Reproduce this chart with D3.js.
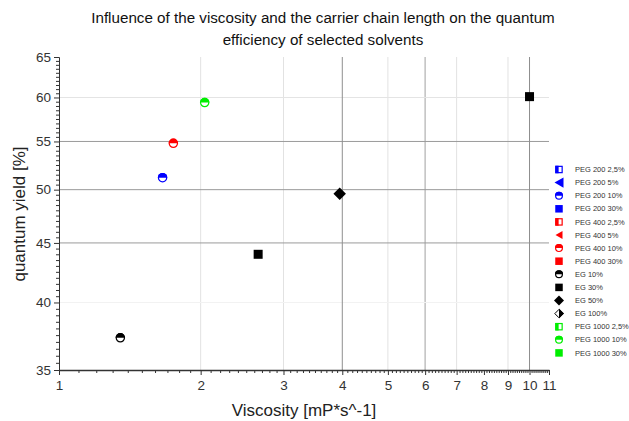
<!DOCTYPE html>
<html>
<head>
<meta charset="utf-8">
<script src="https://cdn.jsdelivr.net/npm/d3@7/dist/d3.min.js"></script>
<style>
  html, body { margin: 0; padding: 0; background: #fff; }
  svg { display: block; font-family: "Liberation Sans", Arial, sans-serif; }
  .axis path, .axis line { stroke: #333; }
  .axis text { fill: #333; font-size: 13.5px; font-family: "Liberation Sans", Arial, sans-serif; }
</style>
</head>
<body>
<svg id="chart" width="629" height="421"></svg>
<script>
// ---- data ----
const titleLines = [
  "Influence of the viscosity and the carrier chain length on the quantum",
  "efficiency of selected solvents"
];
const xLabel = "Viscosity [mP*s^-1]";
const yLabel = "quantum yield [%]";

const xTicks = [1, 2, 3, 4, 5, 6, 7, 8, 9, 10, 11];
const yTicks = [35, 40, 45, 50, 55, 60, 65];

const seriesNames = [
  "PEG 200 2,5%", "PEG 200 5%", "PEG 200 10%", "PEG 200 30%",
  "PEG 400 2,5%", "PEG 400 5%", "PEG 400 10%", "PEG 400 30%",
  "EG 10%", "EG 30%", "EG 50%", "EG 100%",
  "PEG 1000 2,5%", "PEG 1000 10%", "PEG 1000 30%"
];

// measured points: series, viscosity, quantum yield
const pointSeries    = ["PEG 200 10%", "PEG 400 10%", "PEG 1000 10%", "EG 10%", "EG 30%", "EG 50%", "EG 30%"];
const pointViscosity = [1.66, 1.75, 2.04, 1.35, 2.65, 3.95, 10.0];
const pointYield     = [51.2, 54.8, 59.4, 37.3, 44.0, 49.6, 60.1];

// gridline levels
const xGridDark  = [4, 10];
const xGridMid   = [6];
const xGridLight = [2, 3, 5, 7, 9];
const yGridDark  = [45, 50, 55];
const yGridLight = [60];
const yGridFaint = [40];

// ---- styling per series ----
const seriesColor = {
  "PEG 200": "#0000ff", "PEG 400": "#ff0000", "EG": "#000000", "PEG 1000": "#00ee00"
};
const markerOf = {
  "2,5%": "halfSquare", "5%": "triLeft", "10%": "halfCircle",
  "30%": "square", "50%": "diamond", "100%": "halfDiamond"
};
function colorFor(name) { return seriesColor[name.slice(0, name.lastIndexOf(" "))]; }
function markerFor(name) { return markerOf[name.slice(name.lastIndexOf(" ") + 1)]; }

// ---- layout ----
const svg = d3.select("#chart");
const x = d3.scaleLog().domain([1, 11]).range([59, 549]);
const y = d3.scaleLog().domain([35, 65]).range([370, 57]);

// gridlines
const grid = svg.append("g");
function vLines(vals, color, w) {
  grid.selectAll(null).data(vals).enter().append("line")
    .attr("x1", d => x(d)).attr("x2", d => x(d))
    .attr("y1", y.range()[1]).attr("y2", y.range()[0])
    .attr("stroke", color).attr("stroke-width", w);
}
function hLines(vals, color, w) {
  grid.selectAll(null).data(vals).enter().append("line")
    .attr("x1", x.range()[0]).attr("x2", x.range()[1])
    .attr("y1", d => y(d)).attr("y2", d => y(d))
    .attr("stroke", color).attr("stroke-width", w);
}
vLines(xGridLight, "#e2e2e2", 1);
vLines(xGridMid, "#c4c4c4", 1.6);
hLines(yGridFaint, "#f2f2f2", 1);
hLines(yGridLight, "#e4e4e4", 1);
hLines(yGridDark, "#9a9a9a", 1);
vLines(xGridDark, "#8e8e8e", 1);

// axes: major + minor ticks
const xMinor = d3.range(10, 111).map(v => v / 10).filter(v => xTicks.indexOf(v) < 0);
svg.append("g").attr("class", "axis")
  .attr("transform", `translate(0,${y.range()[0]})`)
  .call(d3.axisBottom(x).tickValues(xMinor).tickSize(3).tickFormat("").tickSizeOuter(0));
svg.append("g").attr("class", "axis")
  .attr("transform", `translate(0,${y.range()[0]})`)
  .call(d3.axisBottom(x).tickValues(xTicks).tickSize(5).tickPadding(5)
    .tickFormat(d3.format("d")).tickSizeOuter(0))
  .call(g => g.select(".domain").attr("stroke-width", 1.3));

const yMinor = d3.range(70, 131).map(v => v / 2).filter(v => yTicks.indexOf(v) < 0);
svg.append("g").attr("class", "axis")
  .attr("transform", `translate(${x.range()[0]},0)`)
  .call(d3.axisLeft(y).tickValues(yMinor).tickSize(3).tickFormat("").tickSizeOuter(0));
svg.append("g").attr("class", "axis")
  .attr("transform", `translate(${x.range()[0]},0)`)
  .call(d3.axisLeft(y).tickValues(yTicks).tickSize(5).tickPadding(3)
    .tickFormat(d3.format("d")).tickSizeOuter(0));

// titles
svg.append("g").selectAll("text").data(titleLines).enter().append("text")
  .attr("x", 323).attr("y", (d, i) => 23 + i * 22)
  .attr("text-anchor", "middle").attr("font-size", 15.2).attr("fill", "#111")
  .text(d => d);
svg.append("text").attr("x", 304).attr("y", 416)
  .attr("text-anchor", "middle").attr("font-size", 17).attr("fill", "#222").text(xLabel);
svg.append("text").attr("transform", "translate(25,214) rotate(-90)")
  .attr("text-anchor", "middle").attr("font-size", 17).attr("fill", "#222").text(yLabel);

// marker drawing
function drawMarker(g, type, color, s) {
  const h = s / 2;
  if (type === "square") {
    g.append("rect").attr("x", -h).attr("y", -h).attr("width", s).attr("height", s).attr("fill", color);
  } else if (type === "halfSquare") {
    g.append("rect").attr("x", -h + 0.6).attr("y", -h + 0.6).attr("width", s - 1.2).attr("height", s - 1.2)
      .attr("fill", "#fff").attr("stroke", color).attr("stroke-width", 1.2);
    g.append("rect").attr("x", -h).attr("y", -h).attr("width", s * 0.45).attr("height", s).attr("fill", color);
  } else if (type === "triLeft") {
    g.append("path").attr("d", `M${-h},0L${h},${-h * 1.15}L${h},${h * 1.15}Z`).attr("fill", color);
  } else if (type === "halfCircle") {
    const r = h - 0.6;
    g.append("circle").attr("r", r).attr("fill", "#fff").attr("stroke", color).attr("stroke-width", 1.2);
    g.append("path").attr("d", `M${-h},0A${h},${h} 0 0 1 ${h},0Z`).attr("fill", color);
  } else if (type === "diamond") {
    g.append("path").attr("d", `M0,${-h}L${h},0L0,${h}L${-h},0Z`).attr("fill", color);
  } else if (type === "halfDiamond") {
    g.append("path").attr("d", `M0,${-h + 0.8}L${h - 0.8},0L0,${h - 0.8}L${-h + 0.8},0Z`)
      .attr("fill", "#fff").attr("stroke", color).attr("stroke-width", 1);
    g.append("path").attr("d", `M0,${-h}L${h},0L0,${h}Z`).attr("fill", color);
  }
}

const markerSize = { square: 9, halfSquare: 9, triLeft: 10, halfCircle: 9.5, diamond: 12.5, halfDiamond: 12.5 };

// data points
const pts = svg.append("g");
pointSeries.forEach((name, i) => {
  const g = pts.append("g").attr("transform", `translate(${x(pointViscosity[i])},${y(pointYield[i])})`);
  const t = markerFor(name);
  drawMarker(g, t, colorFor(name), markerSize[t]);
});

// legend
const legendSize = { square: 7.5, halfSquare: 7.5, triLeft: 9, halfCircle: 8, diamond: 10, halfDiamond: 10 };
const leg = svg.append("g");
seriesNames.forEach((name, i) => {
  const cy = 169.5 + i * 13.1;
  const g = leg.append("g").attr("transform", `translate(559,${cy})`);
  const t = markerFor(name);
  let s = legendSize[t];
  if (name === "PEG 400 5%") s = 7;
  drawMarker(g, t, colorFor(name), s);
  leg.append("text").attr("x", 575).attr("y", cy + 2.6)
    .attr("font-size", 7.5).attr("fill", "#333").text(name);
});
</script>
</body>
</html>
